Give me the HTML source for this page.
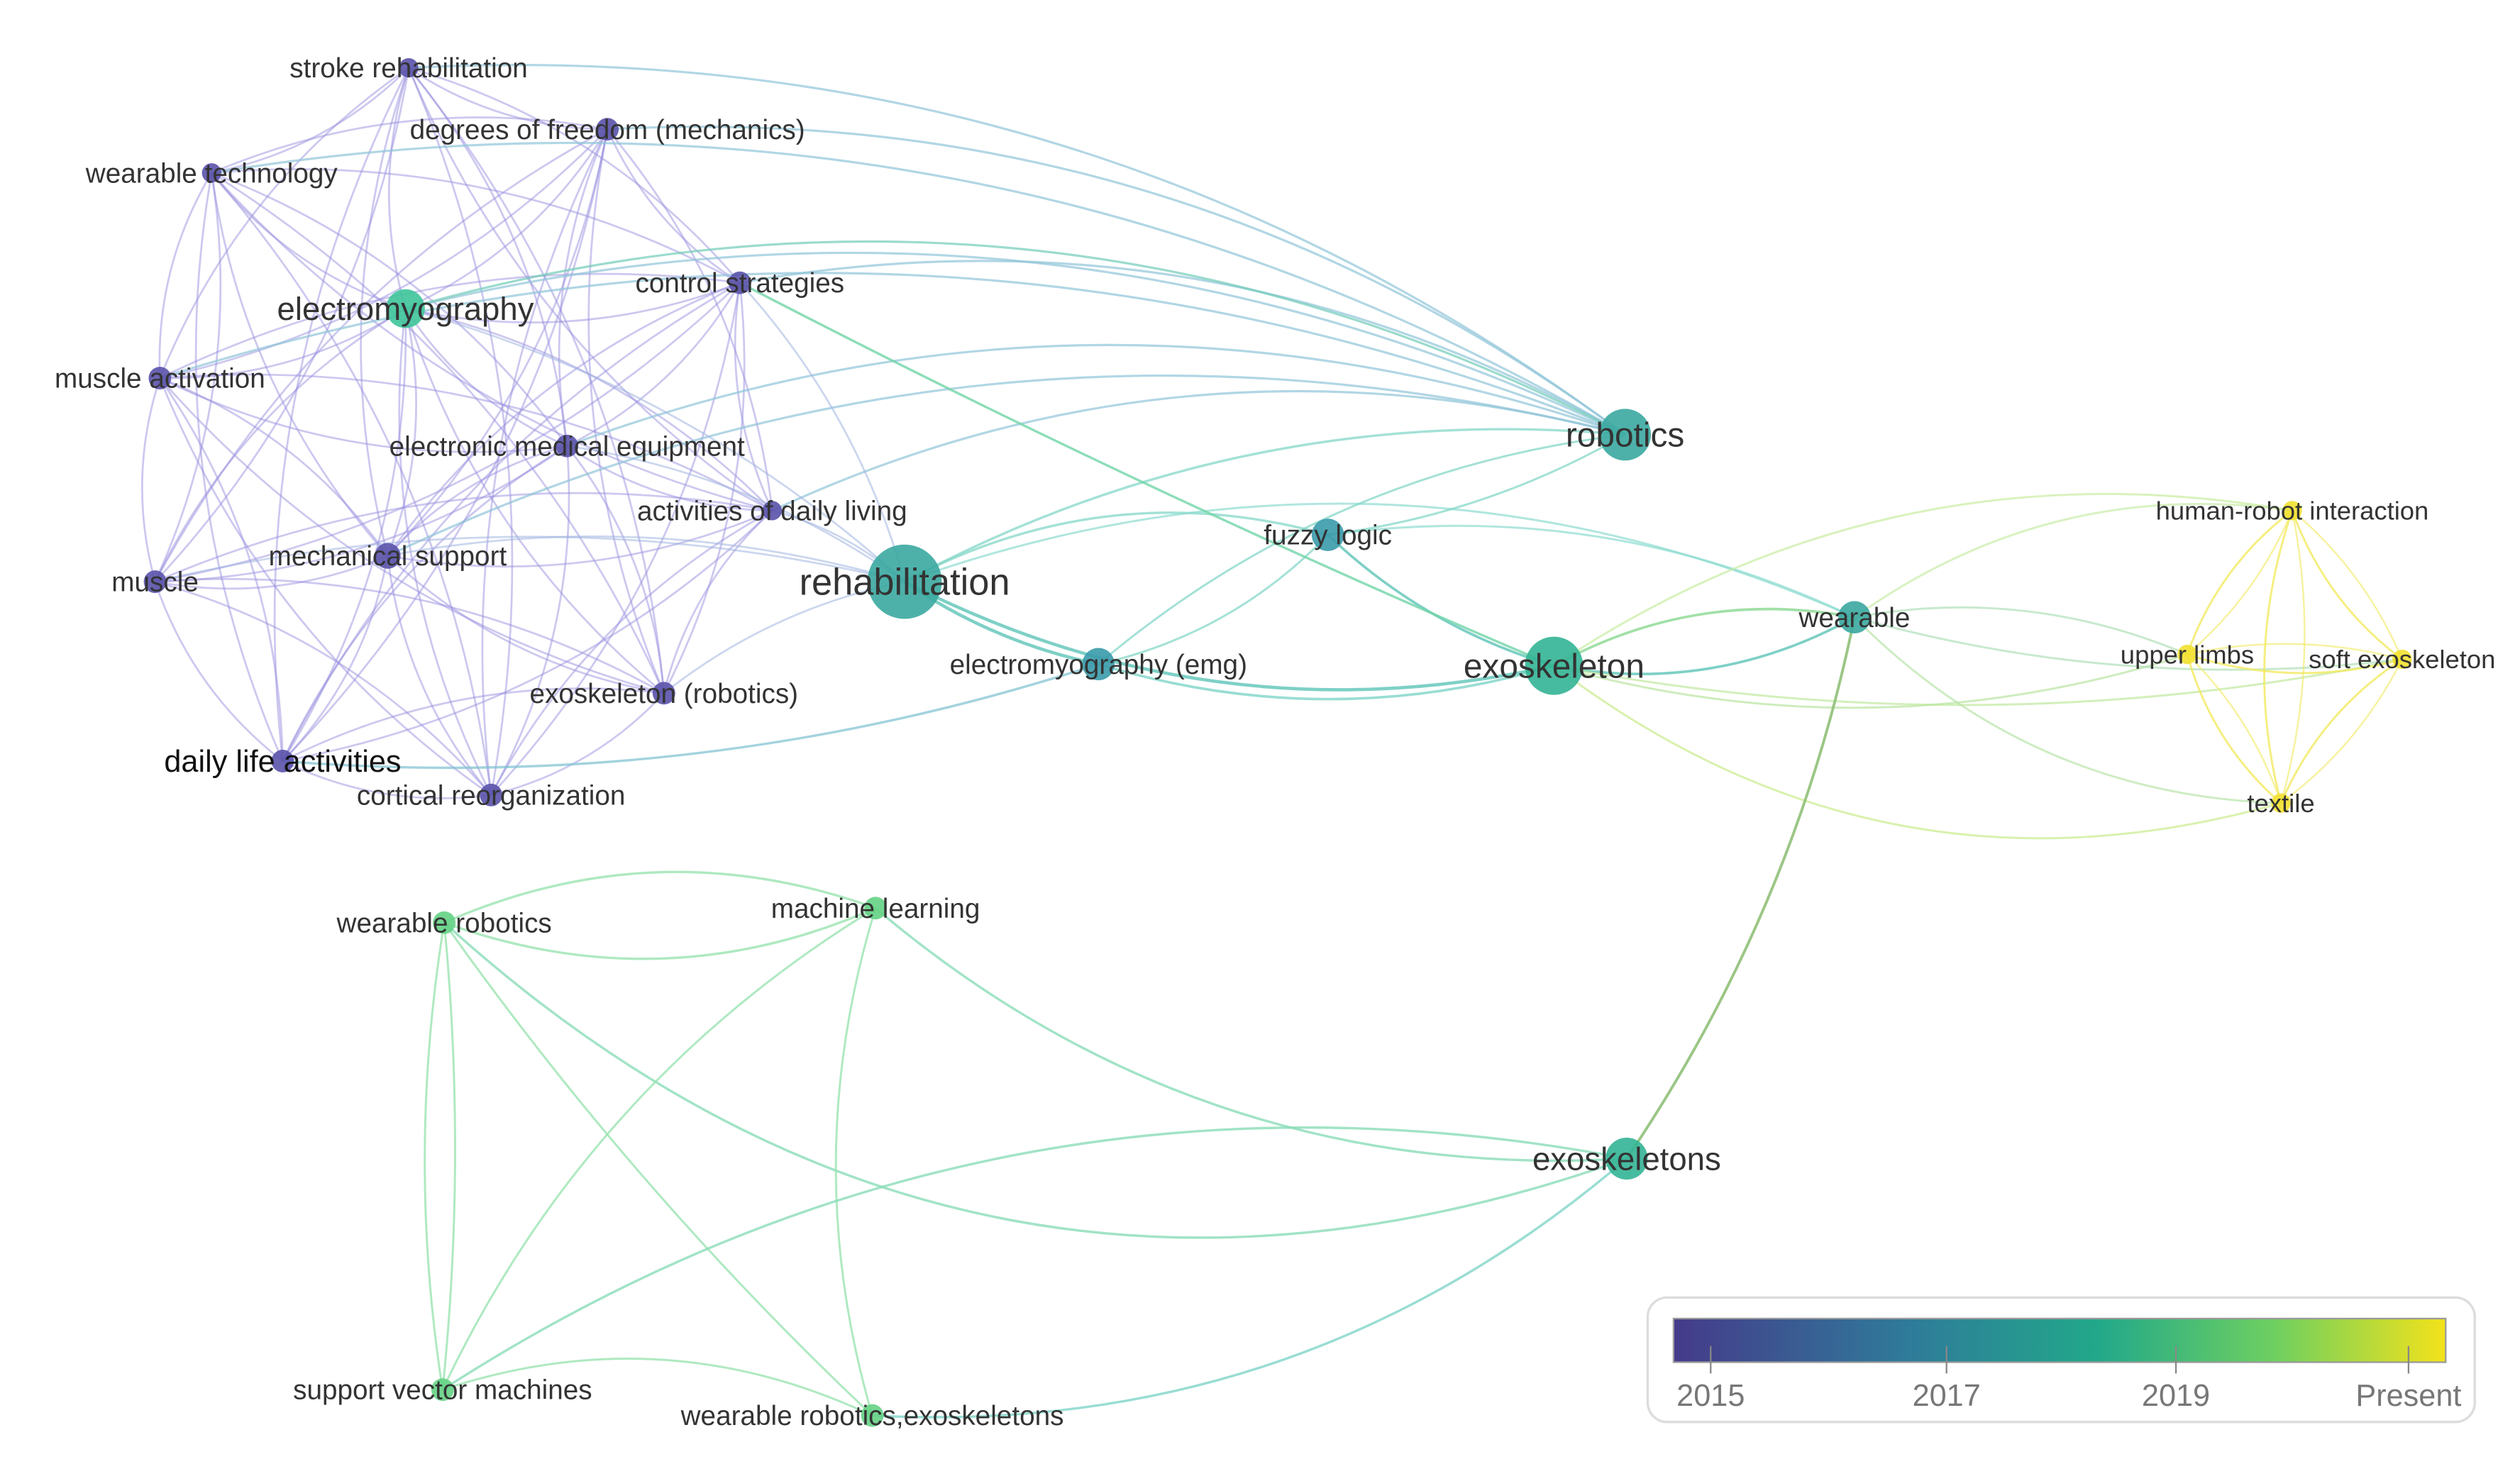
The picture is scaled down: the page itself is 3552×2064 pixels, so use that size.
<!DOCTYPE html>
<html><head><meta charset="utf-8"><style>
html,body{margin:0;padding:0;background:#fff;}
svg{display:block;}
text{font-family:"Liberation Sans",sans-serif;fill:#333;}
</style></head><body>
<svg id="s" width="3552" height="2064" viewBox="0 0 1560 906" preserveAspectRatio="none" xmlns="http://www.w3.org/2000/svg">
<defs><linearGradient id="g" x1="0" x2="1"><stop offset="0" stop-color="#453a8a"/><stop offset="0.3" stop-color="#2f7a9a"/><stop offset="0.55" stop-color="#22a88a"/><stop offset="0.78" stop-color="#6fd060"/><stop offset="1" stop-color="#f3e21a"/></linearGradient></defs>
<g id="edges" fill="none"></g>
<g id="nodes"></g>
<g id="labels"></g>
<rect x="1020" y="803" width="512" height="77" rx="12" fill="#fff" stroke="#ddd" stroke-width="1.5"/>
<rect x="1036" y="816" width="478" height="27" fill="url(#g)" stroke="#999" stroke-width="1"/>
<g stroke="#888" stroke-width="1"><line x1="1059" y1="833" x2="1059" y2="850"/><line x1="1205" y1="833" x2="1205" y2="850"/><line x1="1347" y1="833" x2="1347" y2="850"/><line x1="1491" y1="833" x2="1491" y2="850"/></g>
<g font-size="19" text-anchor="middle"><text x="1059" y="870" style="fill:#777">2015</text><text x="1205" y="870" style="fill:#777">2017</text><text x="1347" y="870" style="fill:#777">2019</text><text x="1491" y="870" style="fill:#777">Present</text></g>
</svg>
<script>
var N={
sr:[253,42,6,'p','stroke rehabilitation',17],
df:[376,80,7,'p','degrees of freedom (mechanics)',17],
wt:[131,107,6,'p','wearable technology',17],
el:[251,191,12,'g2','electromyography',20],
cs:[458,175,7,'p','control strategies',17],
ma:[99,234,7,'p','muscle activation',17],
em:[351,276,7,'p','electronic medical equipment',17],
ad:[478,316,6,'p','activities of daily living',17],
mu:[96,360,7,'p','muscle',17],
ms:[240,344,8,'p','mechanical support',17],
ex:[411,429,7,'p','exoskeleton (robotics)',17],
dl:[175,471,7,'p','daily life activities',19],
cr:[304,492,7,'p','cortical reorganization',17],
re:[560,360,23,'t','rehabilitation',23],
ro:[1006,269,16,'t','robotics',21],
fl:[822,331,10,'tb','fuzzy logic',17],
eg:[680,411,10,'tb','electromyography (emg)',17],
xo:[962,412,18,'t2','exoskeleton',21],
we:[1148,382,10,'t','wearable',17],
hr:[1419,316,6,'y','human-robot interaction',16],
ul:[1354,405,6,'y','upper limbs',16],
se:[1487,408,6,'y','soft exoskeleton',16],
tx:[1412,497,6,'y','textile',16],
wr:[275,571,7,'gr','wearable robotics',17],
ml:[542,562,7,'gr','machine learning',17],
xs:[1007,717,13,'t2','exoskeletons',20],
sv:[274,860,7,'gr','support vector machines',17],
wx:[540,876,7,'gr','wearable robotics,exoskeletons',17]};
var C={p:'#5a52aa',g2:'#3ec49a',t:'#3aa8a0',tb:'#3a9aaa',t2:'#33b495',y:'#f2e030',gr:'#64d184'};
var eg=document.getElementById('edges'),ns='http://www.w3.org/2000/svg';
function E(a,b,col,w,op,k){var A=N[a],B=N[b];if(!A||!B)return;var dx=B[0]-A[0],dy=B[1]-A[1];k=k||0.18;
var mx=(A[0]+B[0])/2-dy*k,my=(A[1]+B[1])/2+dx*k;var p=document.createElementNS(ns,'path');
p.setAttribute('d','M'+A[0]+','+A[1]+' Q'+mx+','+my+' '+B[0]+','+B[1]);p.setAttribute('stroke',col);p.setAttribute('stroke-width',w);p.setAttribute('stroke-opacity',op);eg.appendChild(p);}
var P=['sr','df','wt','el','cs','ma','em','ad','mu','ms','ex','dl','cr'];
for(var i=0;i<P.length;i++)for(var j=i+1;j<P.length;j++){E(P[i],P[j],'#9a92e0',1.2,0.5,(i+j)%2?0.15:-0.15);}
['sr','df','wt','el','cs','ma','em','ad','ms'].forEach(function(a,i){E(a,'ro','#90c4d8',1.4,0.7,-0.18);});
['cs','em','ad','el','ms','ex','mu'].forEach(function(a){E(a,'re','#a0b4e0',1.2,0.55,-0.12);});
E('el','ro','#70ccb8',1.4,0.7,-0.2);
E('re','ro','#7cd4c4',1.5,0.7,-0.15);E('re','fl','#7cd4c4',1.5,0.7,-0.2);E('re','eg','#5ec4b8',2,0.8,0.1);
E('re','xo','#5ec4b8',2,0.8,0.18);E('re','we','#8ddcd0',1.3,0.7,-0.2);E('eg','ro','#7cd4c4',1.3,0.7,-0.15);
E('eg','fl','#7cd4c4',1.3,0.7,0.15);E('eg','xo','#6ccfc0',1.6,0.7,0.15);E('fl','xo','#5ec4b8',1.6,0.8,0.12);
E('fl','we','#8ddcd0',1.3,0.7,-0.15);E('fl','ro','#7cd4c4',1.3,0.7,0.1);E('cs','xo','#70d4a8',1.5,0.8,0.02);
E('dl','eg','#7cc0d0',1.5,0.7,0.1);E('xo','we','#5ec4b8',1.6,0.8,0.18);E('xo','we','#8ad890',1.6,0.8,-0.18);
E('xo','tx','#d0ee98',1.3,0.8,0.25);E('xo','ul','#b8e4a0',1.3,0.7,0.15);E('xo','se','#c0e8a0',1.3,0.7,0.1);E('xo','hr','#c8eca0',1.3,0.7,-0.2);
E('we','ul','#b0e0b8',1.3,0.7,-0.15);E('we','se','#b0e0b8',1.3,0.7,0.1);E('we','tx','#b8e4a8',1.3,0.7,0.2);E('we','hr','#c8eca8',1.3,0.7,-0.2);
E('we','xs','#90c078',1.7,0.9,-0.1);
['hr','ul','se','tx'].forEach(function(a,i){['hr','ul','se','tx'].forEach(function(b,j){if(j>i){E(a,b,'#f2ea60',1.3,0.8,0.15);E(a,b,'#f2ea60',1.1,0.6,-0.12);}});});
E('wr','ml','#9ae4b0',1.5,0.8,-0.2);E('wr','ml','#9ae4b0',1.5,0.8,0.2);E('wr','sv','#9ae4b0',1.3,0.8,0.08);E('wr','sv','#9ae4b0',1.3,0.8,-0.05);
E('wr','wx','#9ae4b0',1.3,0.8,0.05);E('wr','xs','#8adcb8',1.5,0.8,0.3);E('ml','sv','#9ae4b0',1.3,0.8,0.15);E('ml','wx','#9ae4b0',1.3,0.8,0.15);
E('ml','xs','#8adcb8',1.5,0.8,0.2);E('sv','xs','#8adcb8',1.5,0.8,-0.2);E('sv','wx','#9ae4b0',1.3,0.8,-0.2);E('wx','xs','#80d4c8',1.5,0.8,0.2);
var ng=document.getElementById('nodes'),lg=document.getElementById('labels');
for(var k in N){var n=N[k];var c=document.createElementNS(ns,'circle');c.setAttribute('cx',n[0]);c.setAttribute('cy',n[1]);c.setAttribute('r',n[2]);c.setAttribute('fill',C[n[3]]);c.setAttribute('fill-opacity',0.9);ng.appendChild(c);
var t=document.createElementNS(ns,'text');t.setAttribute('x',n[0]);t.setAttribute('y',n[1]+n[5]*0.35);t.setAttribute('text-anchor','middle');t.setAttribute('font-size',n[5]);
if(k=='dl'){t.style.fill='#111';}t.textContent=n[4];lg.appendChild(t);}
</script>
</body></html>
